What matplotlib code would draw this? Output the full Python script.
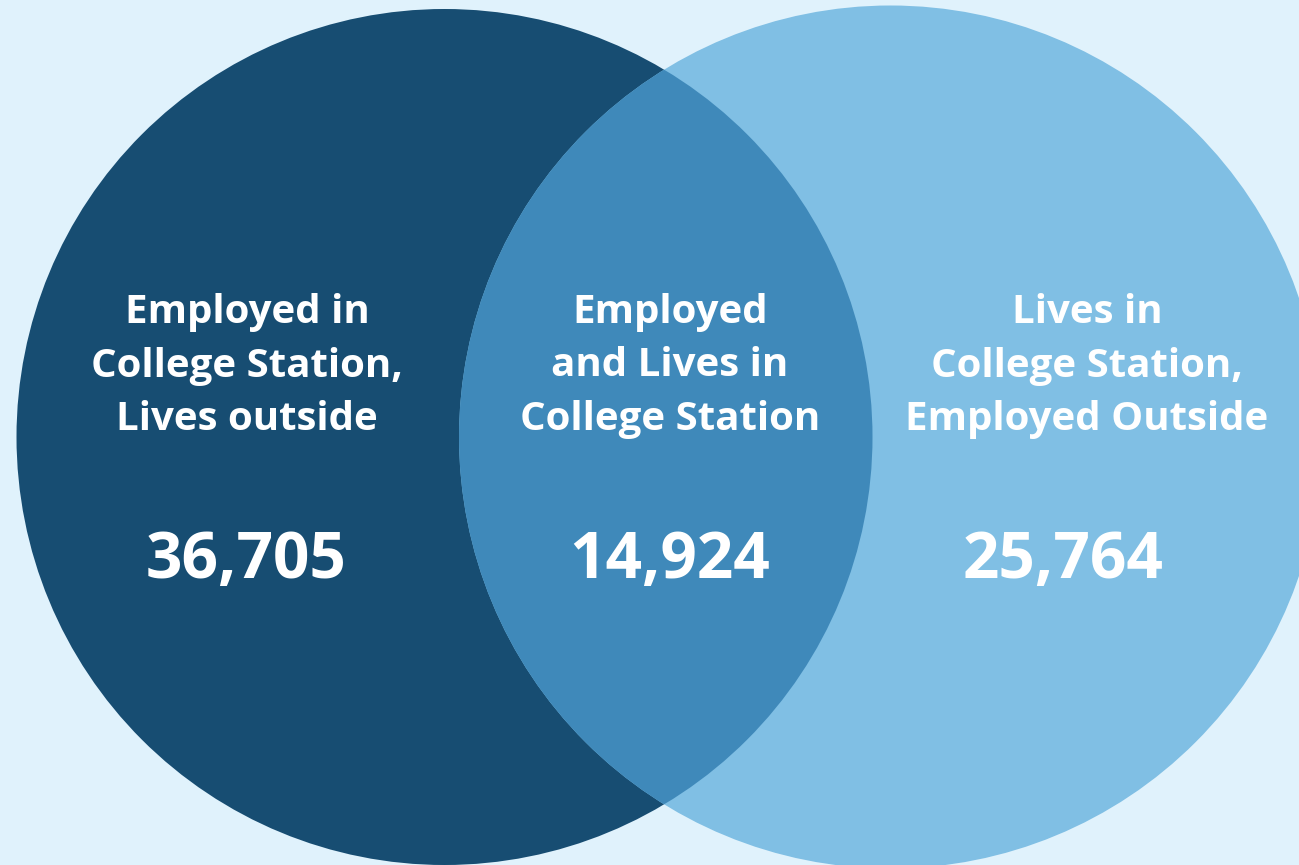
import matplotlib
matplotlib.use("Agg")
import matplotlib.pyplot as plt
from matplotlib.patches import Circle

# Data
labels = [
    "Employed in\nCollege Station,\nLives outside",
    "Employed\nand Lives in\nCollege Station",
    "Lives in\nCollege Station,\nEmployed Outside",
]
values = [36705, 14924, 25764]

# Colors
bg = "#e0f2fc"
c_left = "#174d72"
c_mid = "#3f89ba"
c_right = "#80bfe4"

W, H = 1299, 865
fig = plt.figure(figsize=(W / 100, H / 100), dpi=100, facecolor=bg)
ax = fig.add_axes([0, 0, 1, 1])
ax.set_xlim(0, W)
ax.set_ylim(H, 0)
ax.set_aspect("equal")
ax.axis("off")
ax.set_facecolor(bg)

# Geometry (pixel coordinates)
cxL, cyL, rL = 444.5, 437, 428
cxR, cyR, rR = 890.5, 437, 431.5

left = Circle((cxL, cyL), rL, facecolor=c_left, edgecolor="none", zorder=1)
right = Circle((cxR, cyR), rR, facecolor=c_right, edgecolor="none", zorder=1)
ax.add_patch(left)
ax.add_patch(right)
# overlap: right circle again in mid colour, clipped to left circle
mid = Circle((cxR, cyR), rR, facecolor=c_mid, edgecolor="none", zorder=2)
ax.add_patch(mid)
mid.set_clip_path(left)

label_x = [247, 670, 1087]
value_x = [246, 670, 1063]
font = "Open Sans"
for lx, vx, lab, val in zip(label_x, value_x, labels, values):
    ax.text(lx, 366, lab, ha="center", va="center", color="white",
            fontsize=29, fontweight="bold", family=font, linespacing=1.48, zorder=5)
    ax.text(vx, 562, f"{val:,}", ha="center", va="center", color="white",
            fontsize=46, fontweight="bold", family=font, zorder=5)

fig.savefig("out.png", dpi=100, facecolor=bg)
